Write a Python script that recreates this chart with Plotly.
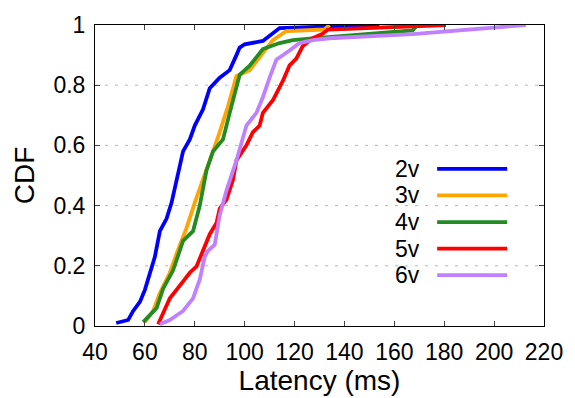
import plotly.graph_objects as go

series_names = ["2v", "3v", "4v", "5v", "6v"]
colors = ["#0000FF", "#FFA500", "#228B22", "#FF0000", "#C080FF"]

x_2v = [48.5, 53.3, 55.3, 58, 60, 62, 64, 66, 68.7, 70.7, 72.7, 75.3, 78, 80, 83.3, 86, 90, 94, 96.7, 98, 100, 107.3, 114, 154]
y_2v = [0.01, 0.02, 0.05, 0.08, 0.12, 0.17, 0.23, 0.315, 0.357, 0.41, 0.485, 0.58, 0.62, 0.666, 0.72, 0.79, 0.825, 0.85, 0.90, 0.925, 0.936, 0.947, 0.99, 1.0]

x_3v = [60, 63.3, 66, 70, 72.7, 76.7, 80, 83.3, 86.7, 90, 93.3, 96.7, 102, 106.7, 111.3, 116.7, 132, 134]
y_3v = [0.013, 0.05, 0.11, 0.177, 0.24, 0.326, 0.41, 0.485, 0.56, 0.644, 0.73, 0.83, 0.85, 0.9, 0.95, 0.98, 0.985, 1.0]

x_4v = [59.3, 64.7, 67.3, 71.3, 75.3, 79.3, 82, 84.7, 87.3, 91.3, 94, 98, 102, 107.3, 114, 119.3, 126, 160, 167.3, 169.3]
y_4v = [0.013, 0.06, 0.124, 0.185, 0.283, 0.315, 0.4, 0.517, 0.58, 0.62, 0.708, 0.835, 0.865, 0.92, 0.94, 0.95, 0.955, 0.975, 0.982, 1.0]

x_5v = [65.3, 67.3, 70, 74, 78, 80.7, 83.3, 86, 88.7, 90, 92.7, 95.3, 96.7, 100.7, 103.3, 106, 107.3, 111.3, 115.3, 118, 120.7, 123.3, 127.3, 131.3, 133.3, 150, 170, 180.7]
y_5v = [0.006, 0.04, 0.092, 0.134, 0.177, 0.198, 0.25, 0.305, 0.342, 0.39, 0.42, 0.485, 0.55, 0.6, 0.644, 0.666, 0.708, 0.75, 0.814, 0.866, 0.888, 0.93, 0.956, 0.971, 0.985, 0.99, 0.995, 1.0]

x_6v = [66, 70, 75.3, 79.3, 82, 84, 85.3, 88, 90, 92.7, 96.7, 99.3, 100.7, 104.7, 107.3, 110, 112.7, 118, 122, 127.3, 134, 167.3, 212.7]
y_6v = [0.006, 0.02, 0.05, 0.092, 0.155, 0.23, 0.25, 0.27, 0.368, 0.45, 0.55, 0.623, 0.666, 0.708, 0.76, 0.825, 0.885, 0.915, 0.94, 0.95, 0.956, 0.97, 1.0]

xs = [x_2v, x_3v, x_4v, x_5v, x_6v]
ys = [y_2v, y_3v, y_4v, y_5v, y_6v]

x_ticks = list(range(40, 221, 20))
y_ticks = [0, 0.2, 0.4, 0.6, 0.8, 1]
y_tick_labels = ["0", "0.2", "0.4", "0.6", "0.8", "1"]

FONT = "Liberation Sans, Arial, sans-serif"
FS = 23

fig = go.Figure()
for name, c, x, y in zip(series_names, colors, xs, ys):
    fig.add_trace(go.Scatter(x=x, y=y, mode="lines", name=name,
                             line=dict(color=c, width=3.8), showlegend=False))

# custom gnuplot-style legend (text left, line sample right)
leg_top = 0.522
leg_step = 0.0883
for i, (name, c) in enumerate(zip(series_names, colors)):
    yy = leg_top - i * leg_step
    fig.add_annotation(x=0.728, y=yy, xref="paper", yref="paper", text=name,
                       showarrow=False, xanchor="right", yanchor="middle",
                       font=dict(size=FS, color="black", family=FONT))
    fig.add_shape(type="line", xref="paper", yref="paper",
                  x0=0.762, x1=0.918, y0=yy, y1=yy,
                  line=dict(color=c, width=3.8))

fig.update_layout(
    width=575, height=398,
    margin=dict(l=95, r=30, t=15, b=69),
    paper_bgcolor="white", plot_bgcolor="white",
    font=dict(family=FONT, size=FS, color="black"),
)
fig.update_xaxes(
    range=[40, 220], tickvals=x_ticks, ticks="inside", ticklen=5,
    showline=True, linecolor="black", linewidth=1, mirror="ticks",
    showgrid=False, zeroline=False, ticklabelstandoff=5,
    title=dict(text="Latency (ms)", standoff=2),
    tickfont=dict(size=FS),
)
fig.update_yaxes(
    range=[0, 1], tickvals=y_ticks, ticktext=y_tick_labels,
    ticks="inside", ticklen=5,
    showline=True, linecolor="black", linewidth=1, mirror="ticks",
    showgrid=False, zeroline=False, ticklabelstandoff=4,
    title=dict(text="CDF", standoff=10),
    tickfont=dict(size=FS),
)
# dotted horizontal grid at inner ticks
for gy in y_ticks[1:-1]:
    fig.add_shape(type="line", xref="paper", yref="y", x0=0, x1=1, y0=gy, y1=gy,
                  line=dict(color="#b4b4b4", width=1, dash="3px,7px"), layer="below")

fig.write_html("out.html")
